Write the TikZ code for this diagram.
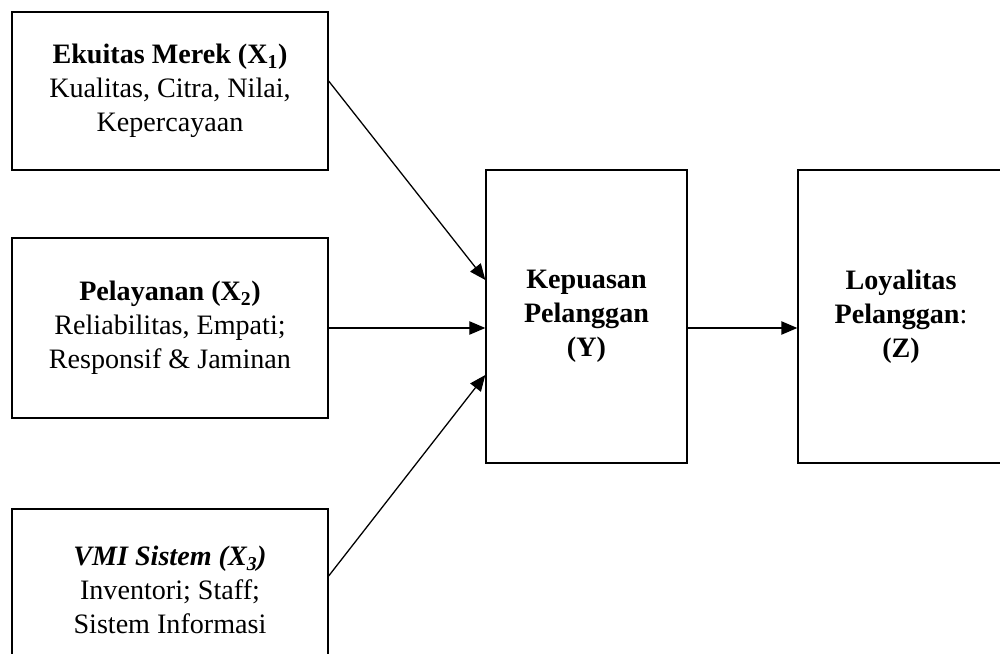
\documentclass[tikz,border=0pt]{standalone}
\usepackage{fontspec}
\setmainfont{Liberation Serif}
\usetikzlibrary{calc,arrows.meta}
\tikzset{
  box/.style={draw=black, line width=1.1pt, align=center, inner sep=0pt,
    font=\fontsize{24}{29}\selectfont},
  link/.style={draw=black, line width=1.1pt, -{Triangle[length=0.48cm, width=0.4cm]}},
}

\begin{document}
\begin{tikzpicture}[x=0.03cm, y=-0.03cm]
  \useasboundingbox (0,0) rectangle (1000,654);
  \clip (0,0) rectangle (1000,654);

  % variabel bebas
  \node[box, minimum width=9.48cm, minimum height=4.74cm] (X1) at (170,91)
    {\textbf{Ekuitas Merek (X\textsubscript{1})}\\Kualitas, Citra, Nilai,\\Kepercayaan};
  \node[box, minimum width=9.48cm, minimum height=5.4cm] (X2) at (170,328)
    {\textbf{Pelayanan (X\textsubscript{2})}\\Reliabilitas, Empati;\\Responsif \& Jaminan};
  \node[box, minimum width=9.48cm, minimum height=4.86cm] (X3) at (170,590)
    {\textbf{\textit{VMI Sistem (X\textsubscript{3})}}\\Inventori; Staff;\\Sistem Informasi};

  % intervening dan terikat
  \node[box, minimum width=6.03cm, minimum height=8.79cm] (Y) at (586.5,316.5)
    {\textbf{Kepuasan}\\\textbf{Pelanggan}\\\textbf{(Y)}};
  \node[box, minimum width=6.18cm, minimum height=8.79cm] (Z) at (901,316.5)
    {\textbf{Loyalitas}\\\textbf{Pelanggan}:\\\textbf{(Z)}};

  \draw[link] ($(X1.east)+(0,-10)$) -- ($(Y.west)+(0,-36.5)$);
  \draw[link] (X2.east) -- ($(Y.west)+(0,11.5)$);
  \draw[link] ($(X3.east)+(0,-14)$) -- ($(Y.west)+(0,58.5)$);
  \draw[link] ($(Y.east)+(0,11.5)$) -- ($(Z.west)+(0,11.5)$);
\end{tikzpicture}
\end{document}
